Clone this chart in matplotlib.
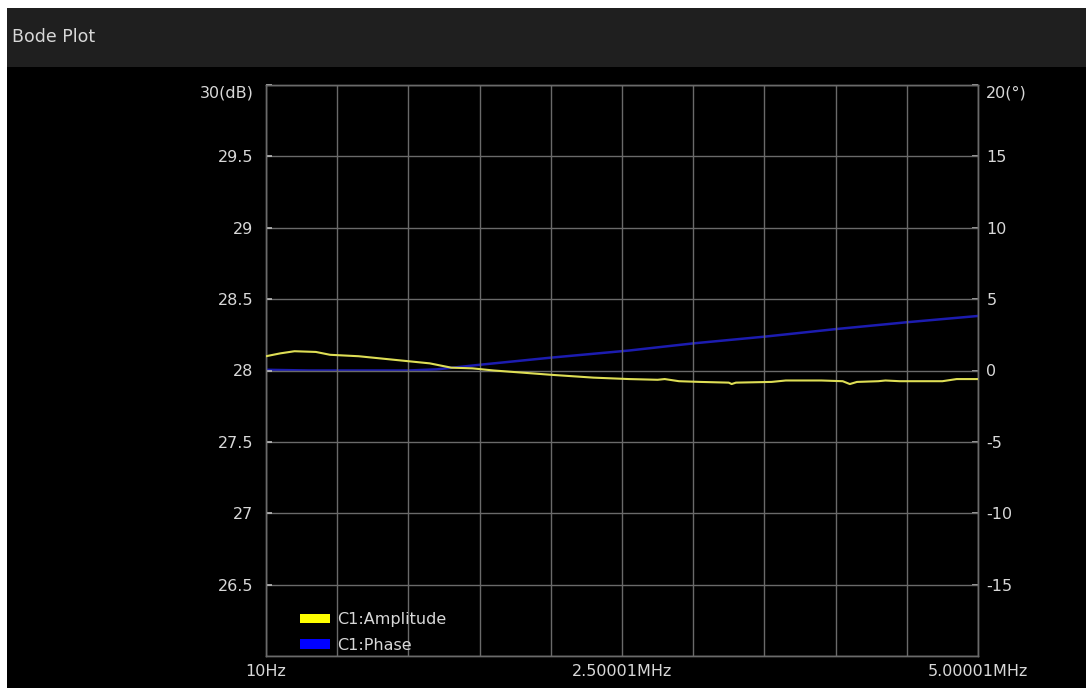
import matplotlib
matplotlib.use("Agg")
import matplotlib.pyplot as plt
from matplotlib.patches import Rectangle, Patch

# ---- data ----
amp_freq_mhz = [0.00, 0.10, 0.20, 0.35, 0.45, 0.65, 0.85, 1.05, 1.15, 1.30, 1.45, 1.60,
                1.80, 2.00, 2.30, 2.55, 2.75, 2.80, 2.90, 3.05, 3.25, 3.27, 3.30, 3.55,
                3.65, 3.90, 4.05, 4.10, 4.15, 4.30, 4.35, 4.45, 4.75, 4.85, 5.00]
amp_db = [28.10, 28.12, 28.135, 28.13, 28.11, 28.10, 28.08, 28.06, 28.05, 28.02, 28.015, 28.00,
          27.985, 27.97, 27.95, 27.94, 27.935, 27.94, 27.925, 27.92, 27.915, 27.905, 27.915, 27.92,
          27.93, 27.93, 27.925, 27.905, 27.92, 27.925, 27.93, 27.925, 27.925, 27.94, 27.94]

phase_freq_mhz = [0.00, 0.30, 1.00, 1.20, 1.50, 2.00, 2.55, 3.00, 3.50, 4.00, 4.50, 5.00]
phase_deg = [0.05, 0.00, 0.00, 0.08, 0.40, 0.90, 1.40, 1.90, 2.37, 2.90, 3.38, 3.82]

x_ticks = [0.0, 2.5, 5.0]
x_tick_labels = ["10Hz", "2.50001MHz", "5.00001MHz"]
y_left_ticks = [30, 29.5, 29, 28.5, 28, 27.5, 27, 26.5]
y_left_labels = ["30(dB)", "29.5", "29", "28.5", "28", "27.5", "27", "26.5"]
y_right_ticks = [20, 15, 10, 5, 0, -5, -10, -15]
y_right_labels = ["20(°)", "15", "10", "5", "0", "-5", "-10", "-15"]
series_names = ["C1:Amplitude", "C1:Phase"]
title = "Bode Plot"

# ---- style ----
W, H = 1086, 688
TXT = "#d8d8d8"
GRID = "#6a6a6a"
FS = 11.5
plt.rcParams['font.family'] = ['DejaVu Sans']

fig = plt.figure(figsize=(W / 100, H / 100), dpi=100, facecolor="black")

# white margins top/left
fig.patches.append(Rectangle((0, 1 - 8 / H), 1, 8 / H, transform=fig.transFigure,
                             facecolor="white", edgecolor="none", zorder=0))
fig.patches.append(Rectangle((0, 0), 7 / W, 1, transform=fig.transFigure,
                             facecolor="white", edgecolor="none", zorder=0))
# title bar
fig.patches.append(Rectangle((7 / W, 1 - 67 / H), 1, 59 / H, transform=fig.transFigure,
                             facecolor="#1f1f1f", edgecolor="none", zorder=0))
fig.text(12 / W, 1 - 37 / H, title, color=TXT, fontsize=12.5, va="center", ha="left")

left, right, top, bottom = 266, 978, 85, 656
ax = fig.add_axes([left / W, 1 - bottom / H, (right - left) / W, (bottom - top) / H])
ax.set_facecolor("black")
ax.set_xlim(0, 5)
ax.set_ylim(26, 30)

ax2 = ax.twinx()
ax2.set_ylim(-20, 20)

for a in (ax, ax2):
    for s in a.spines.values():
        s.set_color(GRID)
        s.set_linewidth(1)

ax.set_xticks(x_ticks)
ax.set_xticklabels(x_tick_labels)
ax.tick_params(axis="x", which="major", length=0, pad=6, colors=TXT, labelsize=FS)

ax.set_yticks(y_left_ticks)
ax.set_yticklabels(y_left_labels)
ax.tick_params(axis="y", which="major", direction="in", length=4, width=1.2,
               color="#bbbbbb", pad=9, labelcolor=TXT, labelsize=FS)

# grid: 10 x 8 divisions
ax.set_xticks([i * 0.5 for i in range(11) if i not in (0, 5, 10)], minor=True)
ax.set_yticks([26.0], minor=True)
ax.grid(which="both", color=GRID, linewidth=1)
ax.tick_params(which="minor", length=0)
ax.set_axisbelow(True)

ax2.set_yticks(y_right_ticks)
ax2.set_yticklabels(y_right_labels)
ax2.tick_params(axis="y", which="major", direction="in", length=4, width=1.2,
                color="#bbbbbb", pad=6, labelcolor=TXT, labelsize=FS)

for lab in (ax.get_yticklabels()[0], ax2.get_yticklabels()[0]):
    lab.set_va("top")

ax2.plot(phase_freq_mhz, phase_deg, color="#1c1cb0", linewidth=1.8, zorder=3)
ax.plot(amp_freq_mhz, amp_db, color="#dede55", linewidth=1.5, zorder=4)
ax.set_zorder(ax2.get_zorder() + 1)
ax.patch.set_visible(False)
ax2.patch.set_facecolor("black")

handles = [Patch(facecolor="#ffff00", edgecolor="none"),
           Patch(facecolor="#0000ff", edgecolor="none")]
leg = ax.legend(handles, series_names, loc="lower left",
                bbox_to_anchor=((300 - left) / (right - left), 0.006),
                frameon=False, fontsize=FS, handlelength=1.9, handleheight=0.55,
                handletextpad=0.4, labelspacing=0.65, borderpad=0, borderaxespad=0)
for t in leg.get_texts():
    t.set_color(TXT)

fig.savefig("out.png", dpi=100, facecolor=fig.get_facecolor())
